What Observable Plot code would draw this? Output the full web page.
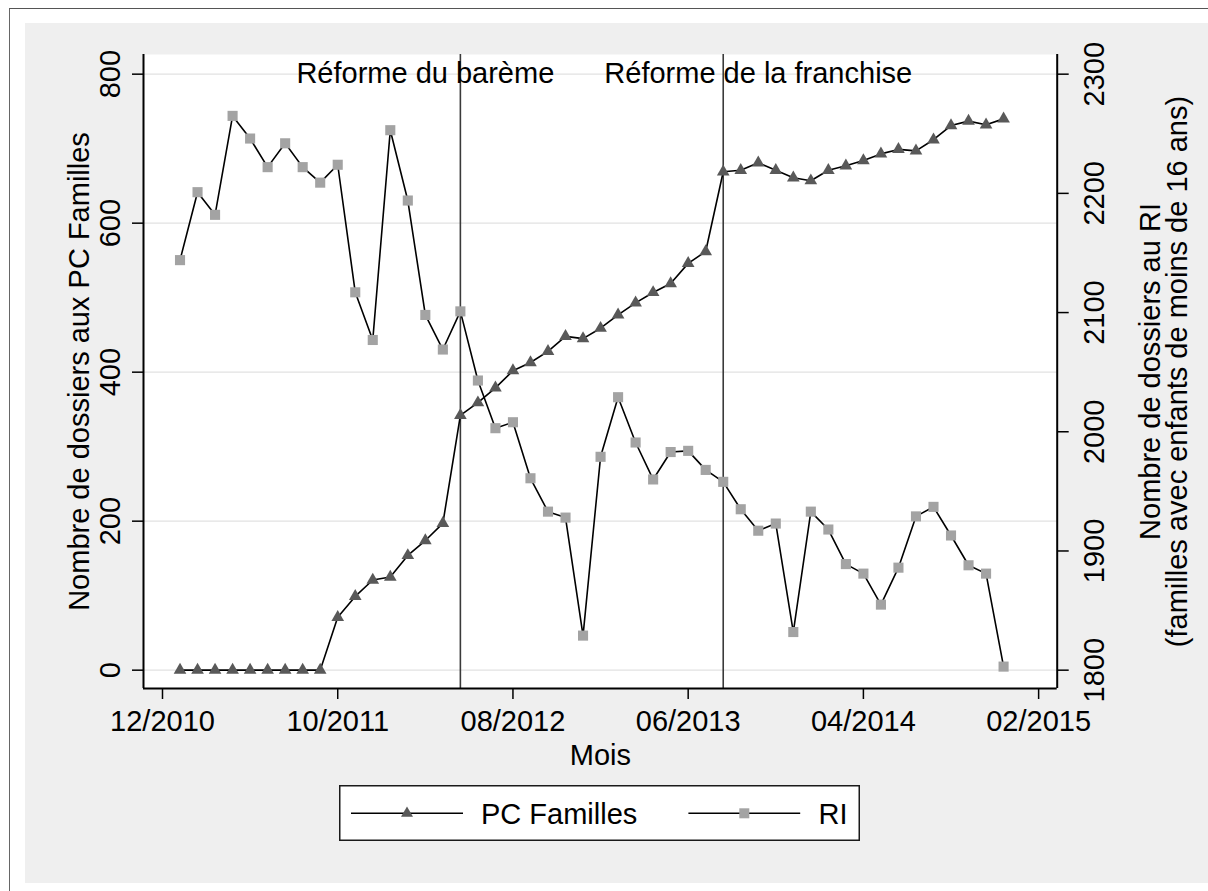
<!DOCTYPE html>
<html>
<head>
<meta charset="utf-8">
<script src="https://cdn.jsdelivr.net/npm/d3@7"></script>
<script src="https://cdn.jsdelivr.net/npm/@observablehq/plot@0.6"></script>
<style>
  html, body { margin: 0; padding: 0; background: #ffffff; }
  #page { position: relative; width: 1208px; height: 891px; overflow: hidden; font-family: "Liberation Sans", Arial, sans-serif; }
  #outer { position: absolute; left: 9px; top: 8px; width: 1400px; height: 1000px; border-left: 1px solid #666; border-top: 1px solid #555; background: #fff; }
  #graphregion { position: absolute; left: 25px; top: 23px; width: 1183px; height: 860px; background: #efefef; }
  #chart { position: absolute; left: 0; top: 0; }
  #legend { position: absolute; left: 339px; top: 785px; }
</style>
</head>
<body>
<div id="page">
  <div id="outer"></div>
  <div id="graphregion"></div>
  <div id="chart"></div>
  <div id="legend"></div>
</div>
<script>
// ---------- DATA ----------
const months = [
  "01/2011","02/2011","03/2011","04/2011","05/2011","06/2011","07/2011","08/2011","09/2011","10/2011","11/2011","12/2011",
  "01/2012","02/2012","03/2012","04/2012","05/2012","06/2012","07/2012","08/2012","09/2012","10/2012","11/2012","12/2012",
  "01/2013","02/2013","03/2013","04/2013","05/2013","06/2013","07/2013","08/2013","09/2013","10/2013","11/2013","12/2013",
  "01/2014","02/2014","03/2014","04/2014","05/2014","06/2014","07/2014","08/2014","09/2014","10/2014","11/2014","12/2014"
];
const pcFamilles = [
  0, 0, 0, 0, 0, 0, 0, 0, 0, 71, 99, 121,
  125, 154, 174, 197, 342, 359, 379, 402, 413, 428, 448, 445,
  459, 477, 493, 507, 519, 546, 562, 669, 671, 681, 671, 661,
  657, 671, 677, 684, 693, 699, 697, 712, 731, 737, 732, 740
];
const riDossiers = [
  2144, 2201, 2182, 2265, 2246, 2222, 2242, 2222, 2209, 2224, 2117, 2077,
  2253, 2194, 2098, 2069, 2101, 2043, 2003, 2008, 1961, 1933, 1928, 1829,
  1979, 2029, 1991, 1960, 1983, 1984, 1968, 1958, 1935, 1917, 1923, 1832,
  1933, 1918, 1889, 1881, 1855, 1886, 1929, 1937, 1913, 1888, 1881, 1803
];
const xTickLabels = ["12/2010", "10/2011", "08/2012", "06/2013", "04/2014", "02/2015"];
const leftTicks = [0, 200, 400, 600, 800];
const rightTicks = [1800, 1900, 2000, 2100, 2200, 2300];
const reformMonths = ["05/2012", "08/2013"];
const reformLabels = ["Réforme du barème", "Réforme de la franchise"];
const reformLabelMonths = ["03/2012", "10/2013"];
const seriesNames = ["PC Familles", "RI"];
const xTitle = "Mois";
const yLeftTitle = "Nombre de dossiers aux PC Familles";
const yRightTitle = ["Nombre de dossiers au RI", "(familles avec enfants de moins de 16 ans)"];

// ---------- HELPERS ----------
const monthIndex = s => { const [mm, yy] = s.split("/").map(Number); return (yy - 2010) * 12 + mm - 12; };
const leftRange = [leftTicks[0], leftTicks[leftTicks.length - 1]];
const rightRange = [rightTicks[0], rightTicks[rightTicks.length - 1]];
const k = (leftRange[1] - leftRange[0]) / (rightRange[1] - rightRange[0]);
const toLeft = r => (r - rightRange[0]) * k + leftRange[0];
const fromLeft = v => (v - leftRange[0]) / k + rightRange[0];

const rows = months.map((m, i) => ({t: monthIndex(m), pc: pcFamilles[i], ri: riDossiers[i]}));
const xTickValues = xTickLabels.map(monthIndex);
const xDomain = [-1.084, 51.06];
const yDomain = [-24.6, 826.4];

const FONT = "Liberation Sans, Arial, Helvetica, sans-serif";
const FS = 29;
const PC_COLOR = "#595959";
const RI_COLOR = "#a3a3a3";

const chart = Plot.plot({
  width: 1208,
  height: 780,
  marginLeft: 143,
  marginRight: 151.3,
  marginTop: 54,
  marginBottom: 92,
  x: {type: "linear", domain: xDomain},
  y: {type: "linear", domain: yDomain},
  style: {background: "transparent", fontFamily: FONT, fontSize: FS + "px", color: "#000", overflow: "visible"},
  marks: [
    Plot.frame({fill: "white", stroke: "none"}),
    Plot.ruleY(leftTicks, {stroke: "#e2e2e2", strokeWidth: 1.3}),
    Plot.ruleX(reformMonths.map(monthIndex), {stroke: "#3a3a3a", strokeWidth: 1.6}),
    Plot.line(rows, {x: "t", y: "pc", stroke: "#000", strokeWidth: 1.6}),
    Plot.dot(rows, {x: "t", y: "pc", symbol: "triangle", r: 4.7, fill: PC_COLOR}),
    Plot.line(rows, {x: "t", y: d => toLeft(d.ri), stroke: "#000", strokeWidth: 1.6}),
    Plot.dot(rows, {x: "t", y: d => toLeft(d.ri), symbol: "square", r: 5.7, fill: RI_COLOR}),
    Plot.text(reformLabels, {x: (d, i) => monthIndex(reformLabelMonths[i]), y: leftRange[1], text: d => d, fontSize: FS, fill: "#000"}),
    // axes
    Plot.axisY({anchor: "left", ticks: leftTicks, tickSize: 11, tickPadding: 12.7, tickRotate: -90, lineAnchor: "bottom", textAnchor: "middle", label: null, strokeWidth: 1.5, fontSize: FS}),
    Plot.axisY({anchor: "right", ticks: rightTicks.map(toLeft), tickFormat: v => String(Math.round(fromLeft(v))), tickSize: 11, tickPadding: 15.6, tickRotate: -90, lineAnchor: "top", textAnchor: "middle", label: null, strokeWidth: 1.5, fontSize: FS}),
    Plot.axisX({anchor: "bottom", ticks: xTickValues, tickFormat: v => xTickLabels[xTickValues.indexOf(v)], tickSize: 11, tickPadding: 10.5, label: null, strokeWidth: 1.5, fontSize: FS}),
    Plot.ruleX([xDomain[0]], {stroke: "#000", strokeWidth: 2}),
    Plot.ruleX([xDomain[1]], {stroke: "#000", strokeWidth: 2}),
    Plot.ruleY([yDomain[0]], {stroke: "#000", strokeWidth: 2}),
    // titles
    Plot.text([yLeftTitle], {frameAnchor: "left", textAnchor: "middle", text: d => d, rotate: -90, dx: -64, fontSize: FS, fill: "#000"}),
    Plot.text([yRightTitle[0]], {frameAnchor: "right", textAnchor: "middle", text: d => d, rotate: -90, dx: 93.3, fontSize: FS, fill: "#000"}),
    Plot.text([yRightTitle[1]], {frameAnchor: "right", textAnchor: "middle", text: d => d, rotate: -90, dx: 121, fontSize: FS, fill: "#000"}),
    Plot.text([xTitle], {frameAnchor: "bottom", textAnchor: "middle", text: d => d, dy: 76, fontSize: FS, fill: "#000"})
  ]
});
document.getElementById("chart").appendChild(chart);

// ---------- LEGEND ----------
const ns = "http://www.w3.org/2000/svg";
const lg = document.createElementNS(ns, "svg");
const LW = 521, LH = 56;
lg.setAttribute("width", LW);
lg.setAttribute("height", LH);
lg.setAttribute("font-family", FONT);
lg.setAttribute("font-size", FS);
const cy = 28.3;
const items = [
  {x0: 12, x1: 124, name: seriesNames[0], tx: 142, sym: "tri", color: PC_COLOR},
  {x0: 349.4, x1: 461.2, name: seriesNames[1], tx: 479.6, sym: "sq", color: RI_COLOR}
];
let html = `<rect x="0.75" y="0.75" width="${LW - 1.5}" height="${LH - 1.5}" fill="#fff" stroke="#1a1a1a" stroke-width="1.5"/>`;
for (const it of items) {
  const mx = (it.x0 + it.x1) / 2;
  html += `<line x1="${it.x0}" x2="${it.x1}" y1="${cy}" y2="${cy}" stroke="#000" stroke-width="1.6"/>`;
  if (it.sym === "tri") {
    html += `<path d="M${mx},${cy - 6.9}L${mx + 6},${cy + 3.5}L${mx - 6},${cy + 3.5}Z" fill="${it.color}"/>`;
  } else {
    html += `<rect x="${mx - 5}" y="${cy - 5}" width="10" height="10" fill="${it.color}"/>`;
  }
  html += `<text x="${it.tx}" y="${cy + 11}" fill="#000">${it.name}</text>`;
}
lg.innerHTML = html;
document.getElementById("legend").appendChild(lg);
</script>
</body>
</html>
